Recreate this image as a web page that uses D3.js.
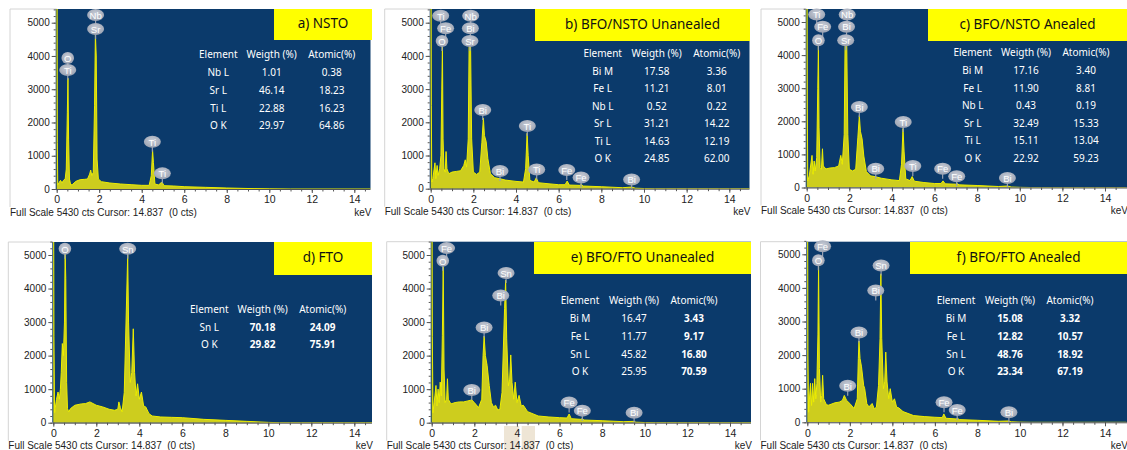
<!DOCTYPE html>
<html><head><meta charset="utf-8">
<script src="https://cdn.jsdelivr.net/npm/d3@7"></script>
<style>body{margin:0;background:#fff} svg{display:block}</style>
</head><body><svg id="chart" width="1127" height="450"></svg>
<script>
// EDS spectra: counts vs energy (keV), six samples
const FULL_SCALE = 5430;
const xTicks = [0, 2, 4, 6, 8, 10, 12, 14];
const yTicks = [0, 1000, 2000, 3000, 4000, 5000];

// spectrum outlines as [keV, counts]
const specNSTO = [[0,5430],[0.02,5430],[0.03,1400],[0.05,120],[0.12,200],[0.18,260],[0.25,180],[0.32,260],[0.4,300],[0.45,600],[0.5,2300],[0.53,3330],[0.56,1500],[0.6,300],[0.66,120],[0.75,140],[0.9,230],[1.1,280],[1.3,290],[1.45,300],[1.55,450],[1.6,570],[1.65,400],[1.72,500],[1.78,2500],[1.82,4660],[1.86,4000],[1.9,900],[1.96,300],[2.1,220],[2.5,180],[3.0,150],[3.5,130],[4.0,110],[4.35,110],[4.45,400],[4.51,1170],[4.55,800],[4.62,150],[4.8,120],[4.92,200],[4.97,190],[5.05,100],[5.5,90],[6,70],[7,50],[8,30],[9,15],[10,5],[11,0],[15,0]];
const specBfoNstoUn = [[0,5430],[0.02,5430],[0.03,2500],[0.05,200],[0.1,300],[0.2,780],[0.24,300],[0.3,700],[0.35,400],[0.42,600],[0.48,1000],[0.52,3000],[0.55,4270],[0.58,1500],[0.62,600],[0.68,500],[0.72,1120],[0.76,600],[0.85,450],[1.0,500],[1.2,520],[1.4,540],[1.55,700],[1.62,870],[1.68,650],[1.76,1500],[1.8,4270],[1.87,4270],[1.92,1500],[2.0,500],[2.15,430],[2.3,500],[2.4,1400],[2.47,2125],[2.52,1600],[2.6,1420],[2.68,900],[2.8,450],[3.0,330],[3.25,300],[3.5,260],[4.0,220],[4.35,200],[4.45,600],[4.52,1670],[4.57,1000],[4.65,250],[4.85,200],[4.95,330],[5.05,180],[5.5,150],[6.0,120],[6.3,120],[6.4,230],[6.5,110],[7.0,100],[7.06,130],[7.15,80],[8,60],[9,30],[9.42,50],[9.6,15],[10,5],[10.5,0],[15,0]];
const specBfoNstoAn = [[0,5430],[0.02,5430],[0.03,2400],[0.05,200],[0.12,350],[0.25,970],[0.3,400],[0.35,800],[0.4,500],[0.47,900],[0.52,3000],[0.55,4270],[0.58,1800],[0.63,600],[0.69,550],[0.74,1170],[0.78,650],[0.9,560],[1.1,590],[1.3,600],[1.5,650],[1.6,970],[1.67,700],[1.76,1600],[1.8,4300],[1.88,4300],[1.93,1600],[2.0,550],[2.15,500],[2.3,550],[2.4,1500],[2.47,2175],[2.52,1700],[2.6,1470],[2.68,950],[2.8,480],[3.0,350],[3.2,330],[3.5,280],[4.0,230],[4.35,210],[4.45,700],[4.52,1780],[4.57,1100],[4.65,260],[4.85,210],[4.95,330],[5.05,190],[5.5,150],[6.0,120],[6.3,120],[6.4,200],[6.5,110],[7.0,100],[7.06,120],[7.15,80],[8,60],[9,30],[9.42,45],[9.6,15],[10,5],[10.5,0],[15,0]];
const specFTO = [[0,5430],[0.02,5430],[0.03,2560],[0.06,300],[0.15,700],[0.22,915],[0.28,700],[0.33,1000],[0.37,1500],[0.42,2360],[0.47,2000],[0.52,3000],[0.55,5100],[0.58,4300],[0.62,1200],[0.66,420],[0.72,320],[0.8,420],[1.0,520],[1.3,560],[1.5,570],[1.7,620],[2.0,520],[2.3,470],[2.6,400],[2.85,370],[3.0,400],[3.05,620],[3.12,450],[3.2,320],[3.3,900],[3.4,3450],[3.46,5000],[3.5,3000],[3.58,1200],[3.65,1500],[3.72,2800],[3.78,1500],[3.85,800],[3.92,1160],[4.0,700],[4.1,915],[4.2,500],[4.3,470],[4.45,270],[4.6,200],[5.0,170],[5.5,160],[6.0,150],[7.0,100],[8.0,70],[9.0,40],[10.0,10],[10.5,0],[15,0]];
const specBfoFtoUn = [[0,5430],[0.02,5430],[0.03,2560],[0.06,300],[0.15,800],[0.2,1110],[0.25,500],[0.3,1000],[0.35,600],[0.4,1210],[0.45,800],[0.5,2600],[0.54,4650],[0.58,1600],[0.63,600],[0.7,700],[0.74,1310],[0.78,700],[0.9,560],[1.1,600],[1.3,620],[1.5,620],[1.7,650],[1.88,680],[2.0,600],[2.2,450],[2.35,700],[2.41,2000],[2.46,2580],[2.52,2000],[2.6,1710],[2.7,1110],[2.8,600],[2.9,470],[3.0,520],[3.1,380],[3.2,400],[3.3,900],[3.42,3400],[3.47,4250],[3.52,2500],[3.6,1100],[3.66,1300],[3.71,2020],[3.77,1200],[3.85,700],[3.92,1210],[4.0,600],[4.1,815],[4.2,500],[4.3,520],[4.5,330],[5.0,200],[5.5,170],[6.0,150],[6.35,140],[6.45,260],[6.55,120],[7.0,100],[7.06,120],[7.15,80],[8,60],[9,30],[9.45,40],[9.6,15],[10,5],[10.5,0],[15,0]];
const specBfoFtoAn = [[0,5430],[0.02,5430],[0.03,2000],[0.06,300],[0.15,1160],[0.2,500],[0.25,1160],[0.3,600],[0.35,1300],[0.4,700],[0.45,1160],[0.5,2600],[0.53,4640],[0.57,1600],[0.63,600],[0.68,800],[0.72,1400],[0.77,700],[0.9,520],[1.0,510],[1.3,580],[1.5,600],[1.65,650],[1.74,800],[1.85,650],[2.0,560],[2.2,410],[2.35,700],[2.4,1900],[2.43,2420],[2.48,1900],[2.55,1650],[2.65,1100],[2.7,1000],[2.8,550],[2.9,460],[3.05,560],[3.15,400],[3.25,450],[3.35,1100],[3.42,2500],[3.46,4420],[3.5,2500],[3.58,1000],[3.64,1200],[3.69,2090],[3.75,1200],[3.83,700],[3.9,1000],[4.0,600],[4.1,700],[4.2,450],[4.3,430],[4.5,320],[5.0,200],[5.5,170],[6.0,150],[6.35,140],[6.42,250],[6.52,120],[7.0,100],[7.06,120],[7.15,80],[8,60],[9,30],[9.45,40],[9.6,15],[10,5],[10.5,0],[15,0]];

// peak markers: [element, keV, counts at marker centre]
const peaksNSTO = [["O",0.52,3940],["Ti",0.52,3580],["Nb",1.83,5230],["Sr",1.83,4810],["Ti",4.5,1420],["Ti",4.97,470]];
const peaksBfoNstoUn = [["Ti",0.47,5210],["Fe",0.70,4830],["O",0.53,4450],["Nb",1.875,5210],["Bi",1.86,4830],["Sr",1.84,4450],["Bi",2.44,2370],["Ti",4.53,1890],["Bi",3.25,530],["Ti",4.97,580],["Fe",6.38,560],["Fe",7.05,340],["Bi",9.42,280]];
const peaksBfoNstoAn = [["Ti",0.47,5230],["Fe",0.75,4860],["O",0.55,4450],["Nb",1.9,5230],["Bi",1.87,4860],["Sr",1.83,4450],["Bi",2.47,2430],["Ti",4.53,1980],["Bi",3.24,570],["Ti",4.98,650],["Fe",6.38,570],["Fe",7.04,340],["Bi",9.42,290]];
const peaksFTO = [["O",0.54,5185],["Sn",3.46,5185]];
const peaksBfoFtoUn = [["Fe",0.70,5205],["O",0.52,4830],["Sn",3.49,4460],["Bi",3.24,3790],["Bi",2.46,2840],["Bi",1.88,975],["Fe",6.45,600],["Fe",7.07,360],["Bi",9.5,300]];
const peaksBfoFtoAn = [["Fe",0.72,5240],["O",0.52,4820],["Sn",3.47,4665],["Bi",3.22,3920],["Bi",2.43,2675],["Bi",1.9,1085],["Fe",6.43,595],["Fe",7.05,365],["Bi",9.48,300]];

// quantification tables: [element, weight %, atomic %]
const tableHeader = ["Element", "Weigth (%)", "Atomic(%)"];
const tableNSTO = [["Nb L","1.01","0.38"],["Sr L","46.14","18.23"],["Ti L","22.88","16.23"],["O K","29.97","64.86"]];
const tableBfoNstoUn = [["Bi M","17.58","3.36"],["Fe L","11.21","8.01"],["Nb L","0.52","0.22"],["Sr L","31.21","14.22"],["Ti L","14.63","12.19"],["O K","24.85","62.00"]];
const tableBfoNstoAn = [["Bi M","17.16","3.40"],["Fe L","11.90","8.81"],["Nb L","0.43","0.19"],["Sr L","32.49","15.33"],["Ti L","15.11","13.04"],["O K","22.92","59.23"]];
const tableFTO = [["Sn L","70.18","24.09"],["O K","29.82","75.91"]];
const tableBfoFtoUn = [["Bi M","16.47","3.43"],["Fe L","11.77","9.17"],["Sn L","45.82","16.80"],["O K","25.95","70.59"]];
const tableBfoFtoAn = [["Bi M","15.08","3.32"],["Fe L","12.82","10.57"],["Sn L","48.76","18.92"],["O K","23.34","67.19"]];

const titles = ["a) NSTO", "b) BFO/NSTO Unanealed", "c) BFO/NSTO Anealed", "d) FTO", "e) BFO/FTO Unanealed", "f) BFO/FTO Anealed"];
const footer = "Full Scale " + FULL_SCALE + " cts Cursor: 14.837  (0 cts)";

const panels = [
  {title: titles[0], spec: specNSTO, peaks: peaksNSTO, table: tableNSTO, boldW: false, boldA: false},
  {title: titles[1], spec: specBfoNstoUn, peaks: peaksBfoNstoUn, table: tableBfoNstoUn, boldW: false, boldA: false},
  {title: titles[2], spec: specBfoNstoAn, peaks: peaksBfoNstoAn, table: tableBfoNstoAn, boldW: false, boldA: false},
  {title: titles[3], spec: specFTO, peaks: peaksFTO, table: tableFTO, boldW: true, boldA: true},
  {title: titles[4], spec: specBfoFtoUn, peaks: peaksBfoFtoUn, table: tableBfoFtoUn, boldW: false, boldA: true},
  {title: titles[5], spec: specBfoFtoAn, peaks: peaksBfoFtoAn, table: tableBfoFtoAn, boldW: true, boldA: true}
];

// panel geometry (pixels)
const layouts = [
  {x0:56.7, x14:354.3, right:370.5, top:9, bottom:189, y5k:22.7, frame:10, tb:[274,372,9,40], ex:161.6, wx:215, ax:275, hy:54, ry:72.3, dy:17.7},
  {x0:430.7, x14:729.3, right:749.5, top:9, bottom:188.7, y5k:22.7, frame:384.7, tb:[535,750,9,41], ex:172, wx:226, ax:286, hy:52.7, ry:70.7, dy:17.5},
  {x0:806.7, x14:1105, right:1127, top:9, bottom:187.5, y5k:22, frame:761, tb:[928,1127,9,41], ex:166, wx:219.3, ax:279.3, hy:52.3, ry:70, dy:17.5},
  {x0:53.3, x14:354.3, right:372, top:242, bottom:422.7, y5k:255, frame:8.3, tb:[274,372,242,275], ex:156, wx:209.4, ax:269.4, hy:309, ry:327.3, dy:17},
  {x0:431.7, x14:730, right:751, top:241.7, bottom:422.7, y5k:255, frame:386.7, tb:[534,751,242,274], ex:148.3, wx:202.3, ax:262.3, hy:300, ry:318.3, dy:17.6},
  {x0:807.3, x14:1105, right:1127, top:241.7, bottom:422.3, y5k:254.3, frame:760.5, tb:[910,1127,242,274], ex:148.7, wx:202.7, ax:262.7, hy:300, ry:318.3, dy:17.6}
];

const svg = d3.select("#chart");
svg.append("rect").attr("width", 1127).attr("height", 450).attr("fill", "#fff");
const defs = svg.append("defs");
const grad = defs.append("radialGradient").attr("id", "bubble").attr("cx", "50%").attr("cy", "40%").attr("r", "60%");
grad.append("stop").attr("offset", "0%").attr("stop-color", "#c9ced8");
grad.append("stop").attr("offset", "100%").attr("stop-color", "#9aa2b2");

const axisFont = "'Liberation Sans', Arial, sans-serif";
const textFont = "'Noto Sans', 'Open Sans', sans-serif";

panels.forEach((p, i) => {
  const L = layouts[i];
  const g = svg.append("g");
  const x = d3.scaleLinear().domain([0, 14]).range([L.x0, L.x14]);
  const y = d3.scaleLinear().domain([0, 5000]).range([L.bottom, L.y5k]);

  // frame lines
  g.append("line").attr("x1", L.frame).attr("x2", L.frame).attr("y1", L.top).attr("y2", L.bottom + 18)
    .attr("stroke", "#d4d4d4").attr("stroke-width", 1);
  g.append("line").attr("x1", L.frame).attr("x2", L.x0).attr("y1", L.top).attr("y2", L.top)
    .attr("stroke", "#d4d4d4").attr("stroke-width", 1);

  // plot background
  g.append("rect").attr("x", L.x0 - 1).attr("y", L.top).attr("width", L.right - L.x0 + 1).attr("height", L.bottom - L.top)
    .attr("fill", "#0b3a6b");

  // title box
  g.append("rect").attr("x", L.tb[0]).attr("y", L.tb[2]).attr("width", L.tb[1] - L.tb[0]).attr("height", L.tb[3] - L.tb[2])
    .attr("fill", "#ffff00");
  g.append("text").attr("x", (L.tb[0] + L.tb[1]) / 2).attr("y", (L.tb[2] + L.tb[3]) / 2 - 1.5)
    .attr("text-anchor", "middle").attr("dominant-baseline", "central")
    .attr("font-family", textFont).attr("font-size", 13.5).attr("fill", "#111").text(p.title);

  // spectrum
  const clipId = "clip" + i;
  defs.append("clipPath").attr("id", clipId).append("rect")
    .attr("x", L.x0 - 1).attr("y", L.top).attr("width", L.right - L.x0 + 1).attr("height", L.bottom - L.top);
  const sg = g.append("g").attr("clip-path", `url(#${clipId})`);
  const area = d3.area().x(d => x(d[0])).y0(L.bottom).y1(d => Math.max(L.top, y(d[1])));
  const line = d3.line().x(d => x(d[0])).y(d => Math.max(L.top, y(d[1])));
  sg.append("path").datum(p.spec).attr("d", area).attr("fill", "#cdcd1e");
  sg.append("path").datum(p.spec).attr("d", line).attr("fill", "none").attr("stroke", "#eded00").attr("stroke-width", 1);

  // peak markers
  p.peaks.forEach(([el, kev, c]) => {
    const cx = x(kev), cy = y(c);
    const rx = el.length > 1 ? 8.5 : 6.3;
    g.append("line").attr("x1", cx).attr("x2", cx).attr("y1", cy + 4).attr("y2", cy + 10)
      .attr("stroke", "#9aa2b2").attr("stroke-width", 1.2);
    g.append("ellipse").attr("cx", cx).attr("cy", cy).attr("rx", rx).attr("ry", 6).attr("fill", "url(#bubble)");
    g.append("text").attr("x", cx).attr("y", cy + 0.3).attr("text-anchor", "middle").attr("dominant-baseline", "central")
      .attr("font-family", axisFont).attr("font-size", 9.5).attr("fill", "#fff").text(el);
  });

  // table
  const cols = [L.x0 + L.ex, L.x0 + L.wx, L.x0 + L.ax];
  tableHeader.forEach((h, k) => {
    g.append("text").attr("x", cols[k]).attr("y", L.hy).attr("text-anchor", "middle").attr("dominant-baseline", "central")
      .attr("font-family", textFont).attr("font-size", 10).attr("fill", "#fff").text(h);
  });
  p.table.forEach((row, r) => {
    row.forEach((v, k) => {
      const bold = (k === 1 && p.boldW) || (k === 2 && p.boldA);
      g.append("text").attr("x", cols[k]).attr("y", L.ry + r * L.dy).attr("text-anchor", "middle").attr("dominant-baseline", "central")
        .attr("font-family", textFont).attr("font-size", 10).attr("font-weight", bold ? "bold" : "normal")
        .attr("fill", "#fff").text(v);
    });
  });

  // axes
  const xAxis = d3.axisBottom(x).tickValues(xTicks).tickSize(4).tickPadding(3).tickFormat(d3.format("d"));
  const xMinor = d3.axisBottom(x).tickValues(d3.range(0, 14.8, 0.5)).tickSize(2.5).tickFormat("");
  const yAxis = d3.axisLeft(y).tickValues(yTicks).tickSize(4).tickPadding(2).tickFormat(d3.format("d"));
  const yMinor = d3.axisLeft(y).tickValues(d3.range(0, FULL_SCALE + 1, 200)).tickSize(2).tickFormat("");

  if (i === 4) {
    // selection highlight around the cursor readout
    g.append("rect").attr("x", 504).attr("y", 426).attr("width", 15.3).attr("height", 24).attr("fill", "#eee5d5");
    g.append("rect").attr("x", 521.7).attr("y", 426).attr("width", 13.3).attr("height", 24).attr("fill", "#eee5d5");
  }

  [xMinor, xAxis].forEach(ax => {
    const a = g.append("g").attr("transform", `translate(0,${L.bottom})`).call(ax);
    a.select(".domain").remove();
    a.selectAll("line").attr("stroke", "#555");
    a.selectAll("text").attr("font-family", axisFont).attr("font-size", 10.5).attr("fill", "#222");
  });
  [yMinor, yAxis].forEach(ax => {
    const a = g.append("g").attr("transform", `translate(${L.x0 - 1},0)`).call(ax);
    a.select(".domain").remove();
    a.selectAll("line").attr("stroke", "#555");
    a.selectAll("text").attr("font-family", axisFont).attr("font-size", 10).attr("fill", "#222");
  });
  g.append("line").attr("x1", L.x0 - 1).attr("x2", L.right).attr("y1", L.bottom + 0.5).attr("y2", L.bottom + 0.5)
    .attr("stroke", "#555").attr("stroke-width", 1);

  // footer
  g.append("text").attr("x", L.frame).attr("y", L.bottom + 23).attr("dominant-baseline", "central")
    .style("white-space", "pre")
    .attr("font-family", axisFont).attr("font-size", 10).attr("fill", "#222").text(footer);
  g.append("text").attr("x", L.right + 1).attr("y", L.bottom + 23).attr("dominant-baseline", "central").attr("text-anchor", "end")
    .attr("font-family", axisFont).attr("font-size", 10).attr("fill", "#222").text("keV");
});
</script></body></html>
